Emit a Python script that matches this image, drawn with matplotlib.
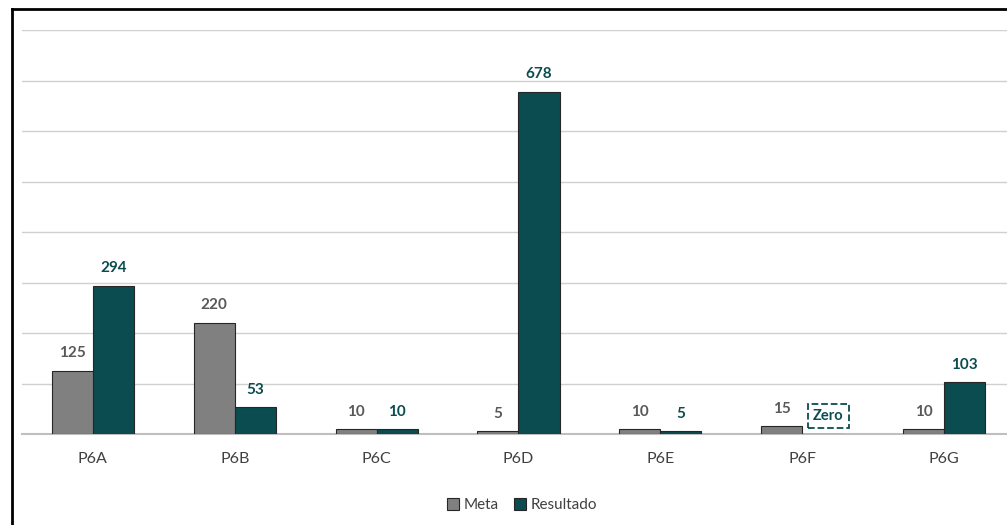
import matplotlib.pyplot as plt
import numpy as np
from matplotlib.lines import Line2D

categorias = ['P6A', 'P6B', 'P6C', 'P6D', 'P6E', 'P6F', 'P6G']
meta = [125, 220, 10, 5, 10, 15, 10]
resultado = [294, 53, 10, 678, 5, 0, 103]
rotulos_resultado = ['294', '53', '10', '678', '5', 'Zero', '103']

COR_META = '#808080'
COR_RES = '#0b4c50'

plt.rcParams['font.family'] = ['Lato', 'DejaVu Sans']

fig = plt.figure(figsize=(10.07, 5.25), dpi=100)
# area do grafico passa um pouco da borda direita
ax = fig.add_axes([22 / 1007, 1 - 434 / 525, (1015 - 22) / 1007, (434 - 30) / 525])

x = np.arange(len(categorias))
w = 0.29
b1 = ax.bar(x - w / 2, meta, w, color=COR_META, edgecolor='#262626', linewidth=0.8, label='Meta', zorder=3)
b2 = ax.bar(x + w / 2, resultado, w, color=COR_RES, edgecolor='#262626', linewidth=0.8, label='Resultado', zorder=3)

ax.set_xlim(-0.5, len(categorias) - 0.5)
ax.set_ylim(0, 800)
ax.set_yticks(range(0, 801, 100))
ax.yaxis.grid(True, color='#d0d0d0', linewidth=1)
ax.set_axisbelow(True)
for s in ['top', 'right', 'left']:
    ax.spines[s].set_visible(False)
ax.spines['bottom'].set_color('#bfbfbf')
ax.spines['bottom'].set_linewidth(1.5)
ax.tick_params(axis='y', left=False, labelleft=False)
ax.tick_params(axis='x', length=0, pad=13, labelsize=11.5, labelcolor='#404040')
ax.set_xticks(x)
ax.set_xticklabels(categorias)

# rotulos
for xi, v in zip(x, meta):
    ax.annotate(str(v), (xi - w / 2, v), xytext=(0, 7.5), textcoords='offset points',
                ha='center', va='bottom', fontsize=11, fontweight='bold', color='#595959')
for xi, v, t in zip(x, resultado, rotulos_resultado):
    if t == 'Zero':
        ax.annotate(t, (xi + w / 2 + 0.04, v), xytext=(0, 8), textcoords='offset points',
                    ha='center', va='bottom', fontsize=10.5, fontweight='bold', color=COR_RES,
                    bbox=dict(boxstyle='square,pad=0.35', fc='white', ec=COR_RES, ls='--', lw=1.3))
    else:
        ax.annotate(t, (xi + w / 2, v), xytext=(0, 7.5), textcoords='offset points',
                    ha='center', va='bottom', fontsize=11, fontweight='bold', color=COR_RES)

leg = fig.legend(handles=[b1, b2], loc='center', bbox_to_anchor=(522 / 1007, 1 - 505 / 525),
                 ncol=2, frameon=False, fontsize=11, handlelength=0.8, handleheight=0.8,
                 handletextpad=0.3, columnspacing=1.0)
for t in leg.get_texts():
    t.set_color('#404040')

# moldura
fig.add_artist(Line2D([12 / 1007, 12 / 1007], [0, 1 - 9 / 525], color='black', linewidth=2))
fig.add_artist(Line2D([12 / 1007, 1], [1 - 9 / 525, 1 - 9 / 525], color='black', linewidth=2))

fig.savefig('out.png', dpi=100)
